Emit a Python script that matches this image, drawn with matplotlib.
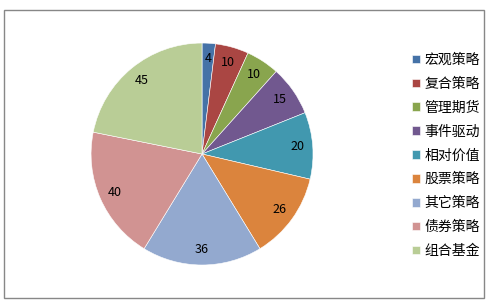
import matplotlib
matplotlib.use("Agg")
import matplotlib.pyplot as plt
import matplotlib.patches as patches

plt.rcParams['font.family'] = ['Noto Sans CJK SC', 'DejaVu Sans']

# ---- data ----
names = ['宏观策略', '复合策略', '管理期货', '事件驱动', '相对价值',
         '股票策略', '其它策略', '债券策略', '组合基金']
values = [4, 10, 10, 15, 20, 26, 36, 40, 45]
colors = ['#4572A7', '#AA4643', '#89A54E', '#71588F', '#4198AF',
          '#DB843D', '#93A9CF', '#D19392', '#B9CD96']

fig = plt.figure(figsize=(4.88, 3.02), dpi=100)

# outer chart border
fig.patches.append(patches.Rectangle((4 / 488, 4 / 302), 480 / 488, 288 / 302,
                                     transform=fig.transFigure, fill=False,
                                     edgecolor='#878787', linewidth=1.0))

ax = fig.add_axes([0.1865, 0.1225, 0.455, 0.735])
wedges, texts = ax.pie(values, labels=[str(v) for v in values], colors=colors,
                       startangle=90, counterclock=False, labeldistance=0.86,
                       wedgeprops=dict(edgecolor='white', linewidth=0.4),
                       textprops=dict(fontsize=9, color='black'))
for t in texts:
    t.set_ha('center')
    t.set_va('center')
ax.set_aspect('equal')
ax.set_xlim(-1, 1)
ax.set_ylim(-1, 1)

fig.legend(wedges, names, loc='upper left', bbox_to_anchor=(405 / 488, 1 - 46 / 302),
           frameon=False, fontsize=10, handlelength=0.6, handleheight=0.6,
           handletextpad=0.3, labelspacing=0.71, borderpad=0)

fig.savefig('out.png', dpi=100)
